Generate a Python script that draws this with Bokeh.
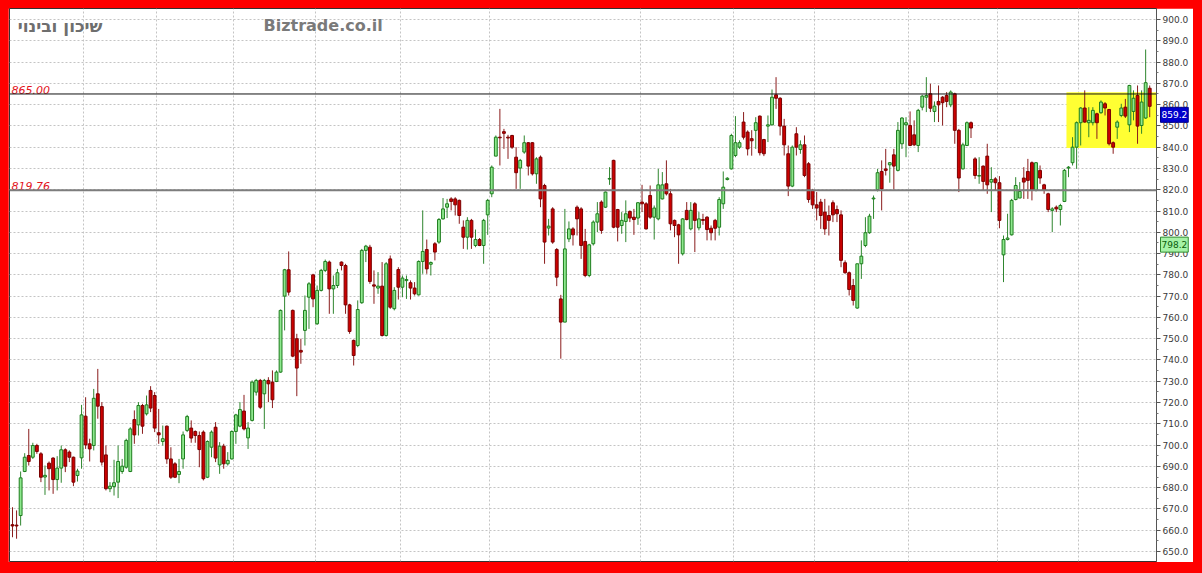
from bokeh.plotting import figure
from bokeh.models import (Span, Label, FixedTicker, PrintfTickFormatter,
                          GlobalInlineStyleSheet)
from bokeh.core.properties import value
from bokeh.embed import file_html
from bokeh.resources import INLINE

# ---------------- data ----------------
title_text = "שיכון ובינוי"
site_text = "Biztrade.co.il"

opens = [
    662.6, 662.4, 666.9, 687.6, 695.1, 694.3, 699.8, 695.9, 685.0, 691.5,
    693.9, 683.8, 689.2, 697.8, 696.7, 694.3, 685.7, 694.0, 713.6, 700.6,
    699.8, 724.1, 718.1, 695.4, 679.5, 680.5, 682.6, 687.6, 689.6, 687.6,
    712.0, 709.5, 718.6, 714.7, 725.7, 723.3, 705.8, 701.7, 708.9, 693.5,
    691.2, 686.2, 693.5, 706.9, 708.0, 706.4, 704.5, 706.1, 684.9, 699.0,
    708.4, 690.7, 699.5, 691.2, 693.5, 706.4, 708.9, 716.0, 703.4, 711.6,
    724.9, 730.4, 724.1, 730.4, 729.6, 729.9, 734.3, 770.0, 782.4, 763.3,
    750.0, 744.5, 753.9, 769.5, 780.0, 757.0, 772.7, 782.1, 786.0, 773.4,
    775.0, 786.0, 784.4, 765.9, 749.2, 746.8, 766.9, 791.5, 793.0, 775.3,
    773.8, 774.7, 751.5, 787.5, 764.1, 782.5, 774.2, 777.3, 776.3, 773.8,
    770.6, 786.3, 791.9, 785.0, 794.6, 795.4, 806.3, 811.8, 815.7, 815.7,
    815.0, 802.4, 797.7, 805.6, 793.8, 796.6, 793.8, 808.2, 818.1, 835.8,
    844.7, 847.3, 844.7, 845.5, 835.3, 830.2, 837.7, 842.1, 842.1, 827.5,
    835.3, 822.0, 802.0, 811.0, 791.9, 768.7, 757.8, 796.9, 801.6, 811.8,
    811.0, 795.7, 779.7, 794.6, 804.8, 814.2, 811.8, 825.0, 833.8, 810.7,
    803.2, 805.1, 809.8, 807.1, 806.7, 814.2, 813.4, 817.3, 807.1, 806.3,
    815.7, 822.8, 818.1, 805.6, 803.5, 789.9, 810.3, 801.6, 813.4, 802.1,
    806.0, 807.1, 801.9, 805.6, 802.4, 813.4, 824.8, 829.8, 836.1, 840.0,
    851.8, 847.1, 844.0, 847.9, 854.6, 843.6, 849.9, 850.5, 864.6, 863.0,
    849.9, 836.9, 821.7, 846.3, 838.9, 841.1, 832.2, 819.7, 812.9, 814.2,
    809.5, 807.9, 813.9, 810.7, 808.2, 785.7, 781.0, 775.0, 764.4, 785.2,
    793.8, 799.8, 815.7, 820.1, 828.6, 829.8, 831.7, 836.4, 829.1, 841.6,
    850.5, 850.2, 845.8, 840.8, 858.8, 863.5, 865.1, 856.8, 861.5, 863.5,
    864.3, 859.9, 865.1, 847.9, 829.8, 840.8, 851.5, 834.5, 826.4, 831.1,
    835.8, 823.6, 825.1, 823.3, 789.4, 796.6, 798.8, 815.4, 816.1, 825.5,
    828.6, 832.7, 819.7, 829.1, 822.3, 818.1, 810.3, 811.8, 810.7, 814.5,
    830.2, 832.7, 840.0, 851.5, 858.4, 851.5, 851.5, 855.7, 856.2, 860.4,
    857.7, 842.1, 849.4, 854.9, 858.8, 850.5, 856.8, 864.3, 850.2, 853.7,
    867.7,
]

highs = [
    670.8, 669.3, 687.6, 696.2, 707.6, 701.1, 700.6, 696.7, 690.4, 692.3,
    694.3, 694.8, 699.8, 698.5, 697.5, 694.6, 688.9, 718.9, 722.5, 703.0,
    726.4, 735.8, 720.2, 699.8, 682.6, 693.1, 699.8, 693.5, 703.0, 708.4,
    716.3, 720.2, 719.4, 723.3, 727.7, 724.9, 717.0, 709.2, 709.2, 699.0,
    692.0, 693.5, 706.4, 714.2, 711.6, 706.9, 706.4, 706.9, 702.2, 706.9,
    710.8, 701.4, 700.6, 696.7, 706.9, 714.7, 720.2, 723.6, 710.8, 730.4,
    731.1, 731.1, 731.1, 731.9, 735.1, 735.1, 763.7, 782.8, 791.0, 763.7,
    752.3, 750.0, 770.3, 776.6, 780.5, 775.0, 782.8, 787.2, 786.7, 779.7,
    782.8, 786.3, 785.2, 766.4, 749.6, 768.0, 792.2, 794.1, 794.1, 782.1,
    781.3, 786.0, 786.0, 789.1, 774.2, 783.6, 779.7, 779.7, 777.4, 776.6,
    786.8, 810.3, 796.6, 786.3, 795.4, 806.7, 816.1, 815.7, 816.5, 816.5,
    815.4, 805.6, 807.1, 806.3, 801.3, 797.3, 806.3, 815.7, 831.4, 845.5,
    858.0, 848.6, 845.8, 845.8, 840.0, 834.5, 845.5, 842.4, 842.4, 835.3,
    836.1, 822.8, 806.3, 811.8, 792.6, 770.6, 811.0, 805.1, 802.4, 812.6,
    811.8, 801.6, 794.6, 805.6, 814.2, 815.0, 819.2, 830.6, 834.1, 811.0,
    809.5, 815.0, 810.3, 811.0, 814.2, 822.3, 814.2, 822.0, 812.6, 829.8,
    828.3, 833.8, 820.4, 806.0, 804.0, 806.7, 814.2, 814.2, 814.2, 809.5,
    808.7, 807.6, 803.2, 806.3, 816.5, 828.6, 825.9, 846.3, 854.6, 843.2,
    856.5, 847.9, 848.0, 854.1, 854.9, 843.9, 854.9, 867.1, 872.9, 863.5,
    853.3, 840.8, 840.8, 849.4, 843.2, 845.5, 833.0, 820.4, 818.9, 815.7,
    815.7, 812.6, 815.0, 812.6, 810.3, 786.8, 781.6, 778.1, 785.2, 796.2,
    807.1, 808.7, 817.3, 829.8, 833.8, 839.2, 833.0, 839.2, 851.8, 854.1,
    854.1, 856.8, 852.6, 858.0, 864.6, 872.9, 869.8, 861.5, 869.0, 864.0,
    865.9, 866.7, 865.6, 848.6, 842.1, 852.1, 852.1, 835.3, 835.3, 831.4,
    841.6, 830.6, 825.9, 826.4, 798.5, 808.7, 815.7, 825.9, 823.6, 830.6,
    834.5, 833.3, 833.0, 831.4, 822.8, 818.6, 811.8, 812.6, 813.4, 829.8,
    831.1, 844.7, 852.1, 858.8, 866.7, 858.8, 858.8, 856.2, 862.0, 861.2,
    858.0, 842.7, 852.6, 860.4, 862.7, 869.3, 866.7, 869.0, 866.7, 885.9,
    869.0,
]

lows = [
    656.7, 656.0, 662.2, 687.3, 690.4, 693.5, 695.9, 682.6, 676.6, 678.7,
    677.1, 678.7, 682.3, 687.3, 692.0, 680.7, 682.9, 688.9, 698.2, 692.3,
    697.5, 712.4, 690.4, 678.7, 677.9, 676.3, 675.1, 686.5, 688.9, 687.3,
    700.6, 704.5, 705.3, 713.9, 715.5, 706.1, 700.6, 699.8, 691.2, 684.1,
    684.5, 682.1, 688.9, 706.1, 701.1, 701.1, 689.6, 683.4, 684.5, 694.3,
    692.0, 686.5, 688.9, 690.4, 693.2, 700.6, 708.4, 706.9, 698.2, 711.1,
    723.3, 717.0, 707.6, 720.2, 717.4, 729.6, 734.0, 753.9, 770.3, 741.3,
    723.0, 738.2, 746.8, 754.6, 764.8, 756.5, 772.2, 781.3, 761.7, 761.7,
    773.8, 782.1, 761.7, 752.3, 737.4, 746.0, 766.4, 786.0, 775.8, 766.4,
    771.1, 751.0, 751.0, 764.0, 763.3, 768.4, 769.5, 768.7, 768.4, 770.3,
    770.3, 780.5, 780.5, 779.7, 786.8, 794.6, 806.0, 806.7, 810.3, 807.9,
    804.0, 792.2, 791.9, 792.2, 793.0, 793.5, 785.2, 798.8, 816.5, 835.8,
    831.4, 839.2, 834.5, 839.2, 820.4, 820.4, 836.9, 826.7, 826.7, 822.8,
    811.8, 785.2, 798.5, 794.6, 774.7, 740.6, 757.8, 795.4, 793.8, 798.5,
    787.5, 778.9, 778.9, 793.8, 800.1, 799.3, 811.4, 822.3, 801.9, 795.7,
    799.3, 795.4, 804.8, 798.8, 803.5, 809.5, 801.3, 806.3, 796.6, 805.6,
    815.4, 817.3, 800.9, 797.7, 785.2, 789.1, 805.6, 800.9, 790.7, 800.9,
    803.5, 796.2, 796.2, 796.2, 798.5, 811.0, 824.4, 829.5, 835.3, 839.2,
    843.6, 836.1, 836.0, 839.2, 836.1, 835.8, 842.4, 850.2, 858.0, 845.5,
    836.1, 817.0, 821.2, 836.1, 836.9, 825.9, 813.9, 811.0, 805.6, 801.6,
    798.8, 798.5, 804.8, 804.8, 783.6, 780.5, 770.3, 765.6, 764.1, 778.1,
    793.0, 799.3, 806.3, 819.2, 810.3, 826.7, 823.3, 820.1, 828.6, 839.2,
    835.3, 840.5, 840.5, 837.7, 857.3, 856.5, 856.5, 851.8, 851.8, 850.2,
    858.8, 858.8, 841.6, 818.9, 829.5, 840.5, 844.3, 825.1, 822.8, 819.7,
    818.1, 809.5, 819.7, 801.9, 776.6, 796.2, 798.5, 815.0, 816.1, 815.7,
    815.7, 815.0, 819.2, 822.8, 818.1, 809.5, 800.1, 809.5, 803.2, 814.2,
    825.9, 831.4, 829.8, 840.8, 851.5, 844.7, 850.2, 843.9, 855.7, 854.9,
    840.8, 836.9, 843.9, 854.1, 853.7, 847.1, 852.6, 841.6, 846.3, 853.3,
    854.1,
]

closes = [
    662.0, 662.0, 684.6, 694.3, 692.3, 699.8, 697.0, 684.9, 685.8, 688.9,
    683.8, 689.2, 697.8, 690.1, 694.3, 682.6, 687.8, 714.2, 700.1, 698.2,
    722.0, 718.3, 692.0, 679.5, 680.7, 682.3, 692.3, 690.1, 702.2, 707.6,
    704.8, 718.6, 708.9, 718.9, 717.4, 708.0, 704.8, 703.0, 693.5, 684.9,
    684.9, 687.6, 704.8, 713.4, 703.3, 704.5, 697.9, 684.2, 701.7, 706.1,
    693.9, 699.5, 691.2, 692.8, 706.4, 714.2, 716.7, 707.6, 708.0, 729.6,
    730.4, 717.8, 730.4, 728.8, 721.3, 734.3, 763.3, 782.4, 771.9, 741.8,
    736.2, 743.7, 763.3, 775.8, 768.7, 772.7, 782.1, 786.3, 773.4, 775.0,
    781.0, 784.4, 765.9, 753.4, 742.1, 763.7, 791.5, 793.5, 776.9, 774.7,
    774.7, 751.5, 785.2, 764.8, 772.7, 774.2, 778.5, 777.8, 773.8, 771.1,
    786.3, 791.0, 782.8, 785.8, 790.7, 806.0, 811.0, 813.4, 814.5, 812.9,
    807.9, 797.7, 805.6, 797.7, 796.6, 793.8, 805.6, 815.0, 830.6, 844.7,
    844.4, 846.5, 844.3, 840.0, 828.0, 833.8, 842.1, 831.1, 827.5, 834.5,
    815.7, 795.4, 802.9, 795.4, 778.9, 757.8, 792.2, 801.6, 798.8, 806.3,
    793.8, 779.7, 794.1, 804.8, 808.7, 800.9, 818.9, 825.3, 802.4, 802.4,
    805.6, 808.7, 806.7, 806.0, 813.9, 813.4, 801.6, 807.1, 811.4, 822.3,
    822.3, 818.1, 804.0, 803.2, 798.8, 806.3, 806.0, 810.3, 805.6, 806.3,
    805.6, 801.3, 799.8, 801.9, 815.4, 821.2, 825.4, 845.5, 842.1, 842.1,
    844.7, 839.2, 843.0, 851.5, 837.4, 836.9, 850.5, 863.5, 863.0, 849.9,
    841.1, 821.7, 840.0, 840.0, 841.1, 826.7, 815.4, 812.9, 811.4, 807.9,
    801.6, 805.6, 808.2, 808.7, 786.8, 781.0, 773.1, 768.0, 785.2, 788.8,
    799.8, 807.6, 816.1, 828.0, 820.4, 829.1, 832.7, 831.1, 847.9, 853.7,
    851.5, 840.8, 841.1, 857.3, 864.0, 864.3, 858.3, 859.3, 859.9, 860.9,
    861.5, 865.9, 847.9, 825.5, 841.1, 851.5, 849.0, 826.7, 826.7, 823.9,
    822.3, 824.8, 823.3, 805.6, 796.6, 797.3, 815.0, 822.0, 819.2, 823.6,
    824.4, 819.7, 832.7, 825.5, 819.7, 810.7, 811.0, 811.0, 812.6, 829.1,
    830.6, 840.0, 851.5, 858.4, 851.8, 852.6, 857.3, 851.5, 861.2, 858.4,
    841.6, 840.0, 851.8, 858.4, 854.6, 869.0, 863.0, 849.9, 861.2, 870.3,
    859.2,
]

# horizontal reference levels and their labels
levels = [865.00, 819.76]
level_labels = ["865.00", "819.76"]

# price tags on the right axis
last_price = 859.2
other_price = 798.2

# highlighted (yellow) zone: from candle index to the end, between two prices
zone_start = 259.5
zone_low = 839.6
zone_high = 865.8

# candle indices where a new month starts (vertical grid lines)
month_starts = [18, 36, 55, 75, 96, 118, 155, 178, 198, 221, 243, 263]

y_ticks = list(range(650, 901, 10))
y_minor = [t + 5 for t in range(650, 900, 10)]

# ---------------- derived ----------------
n = len(closes)
idx = list(range(n))
rising = [c >= o for o, c in zip(opens, closes)]
body_top = [max(o, c) for o, c in zip(opens, closes)]
body_bot = [min(o, c) for o, c in zip(opens, closes)]
fill = ["#8ee88e" if r else "#cc0000" for r in rising]
edge = ["#1d7d1d" if r else "#7a0000" for r in rising]
wick = ["#2f862f" if r else "#8a1c1c" for r in rising]

x_start, x_end = -0.74, 281.67
y_start, y_end = 645.30, 905.17

# the two price-tag labels live in the right side panel (so they are not clipped);
# that panel adds width, which is cut off again by the page's clip-path below
p = figure(width=1239, height=554,
           x_range=(x_start, x_end), y_range=(y_start, y_end),
           output_backend="svg", toolbar_location=None,
           y_axis_location="right", x_axis_location=None,
           min_border_left=1, min_border_top=0, min_border_bottom=1,
           min_border_right=36,
           background_fill_color="white", border_fill_color="white",
           outline_line_color="#333333", outline_line_width=1)
p.stylesheets = [GlobalInlineStyleSheet(css=(
    "html { background-color: #ff0000 !important; overflow: hidden !important; } "
    "body { background: transparent !important; margin: 0 !important; "
    "padding: 8px 0 0 8px !important; clip-path: inset(0px 9px 0px 0px); }"))]

# grids
p.ygrid.ticker = FixedTicker(ticks=y_ticks)
p.xgrid.ticker = FixedTicker(ticks=[m - 0.5 for m in month_starts])
for g in (p.xgrid, p.ygrid):
    g.grid_line_color = "#c4c4c4"
    g.grid_line_dash = "2 2"
    g.grid_line_width = 1

# y axis
ax = p.yaxis[0]
ax.ticker = FixedTicker(ticks=y_ticks, minor_ticks=y_minor)
ax.formatter = PrintfTickFormatter(format="%.1f")
ax.major_label_text_font = "DejaVu Sans"
ax.major_label_text_font_size = "9px"
ax.major_label_text_color = "#3a3a3a"
ax.axis_line_color = "#555555"
ax.major_tick_line_color = "#555555"
ax.minor_tick_line_color = "#777777"
ax.major_tick_out = 4
ax.major_tick_in = 0
ax.minor_tick_out = 2
ax.minor_tick_in = 0
ax.major_label_standoff = 2

# yellow zone
p.quad(left=[zone_start], right=[x_end + 1], bottom=[zone_low], top=[zone_high],
       fill_color="#ffff33", line_color=None)

# candles
p.segment(x0=idx, y0=lows, x1=idx, y1=highs, line_color=wick, line_width=1)
p.vbar(x=idx, width=0.7, top=body_top, bottom=body_bot,
       fill_color=fill, line_color=edge, line_width=1)

# reference lines
p.add_layout(Span(location=levels[0], dimension="width", line_color="#111111", line_width=1))
p.add_layout(Span(location=levels[1], dimension="width", line_color="#7d7d7d", line_width=2))

p.text(x=[x_start, x_start], y=levels, text=level_labels,
       text_font=value("DejaVu Sans"), text_font_style="italic",
       text_font_size="11px", text_color="#e3141c",
       text_align="left", text_baseline="alphabetic",
       x_offset=2, y_offset=-4)

# title texts
p.text(x=[x_start], y=[y_end], text=[title_text],
       text_font=value("DejaVu Sans"), text_font_style="bold",
       text_font_size="17px", text_color="#6e6e6e",
       text_align="right", text_baseline="alphabetic",
       x_offset=93, y_offset=17)
p.text(x=[x_start], y=[y_end], text=[site_text],
       text_font=value("DejaVu Sans"), text_font_style="bold",
       text_font_size="16px", text_color="#7a7a7a",
       text_align="left", text_baseline="alphabetic",
       x_offset=254, y_offset=17)

# price tags in the axis area
p.add_layout(Label(x=x_end, y=last_price, text=f"{last_price:.1f}",
                   text_font="DejaVu Sans", text_font_size="9px",
                   text_color="white", text_align="left", text_baseline="top",
                   x_offset=4, y_offset=-1, padding=(1, 4),
                   background_fill_color="#0000cc", border_line_color="#000088"), "right")
p.add_layout(Label(x=x_end, y=other_price, text=f"{other_price:.1f}",
                   text_font="DejaVu Sans", text_font_size="9px",
                   text_color="#0b5d0b", text_align="left", text_baseline="top",
                   x_offset=4, y_offset=-1, padding=(1, 4),
                   background_fill_color="#a6f2a6", border_line_color="#2e8b2e"), "right")

open("out.html", "w").write(file_html(p, INLINE))
